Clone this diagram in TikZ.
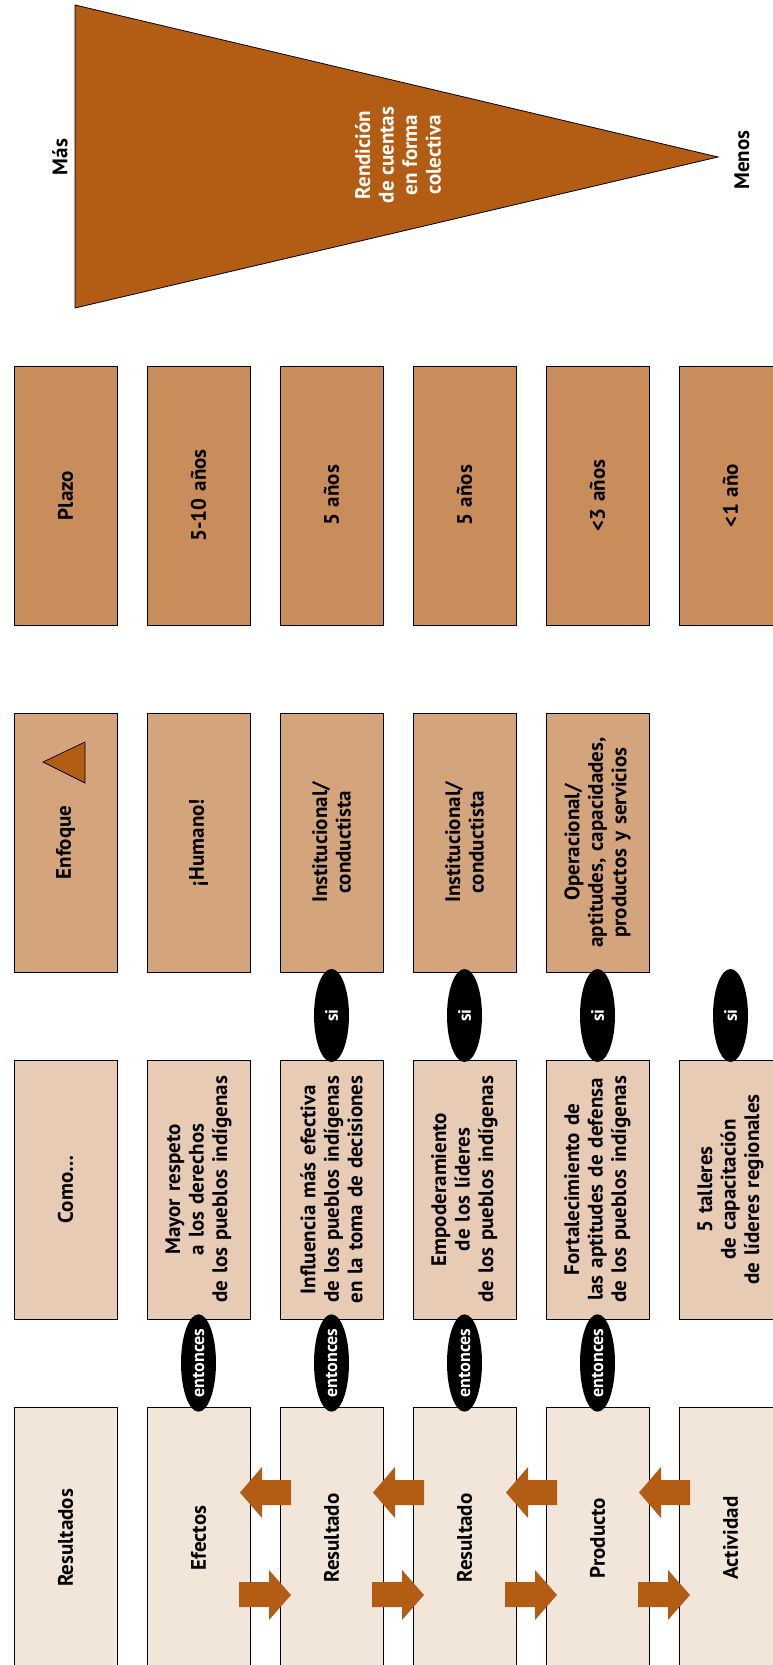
\documentclass[tikz,border=0pt]{standalone}
\usepackage{fontspec}
\setmainfont{PT Sans}
\usetikzlibrary{shapes.geometric}
\definecolor{plazo}{HTML}{C98C5B}
\definecolor{enfoque}{HTML}{D4A47C}
\definecolor{como}{HTML}{E8CBB5}
\definecolor{resul}{HTML}{F2E5DA}
\definecolor{naranja}{HTML}{B35C14}
\begin{document}
\begin{tikzpicture}[x=1pt,y=-1pt,
  box/.style={draw=black, line width=0.9pt, rotate=90, minimum width=259pt, minimum height=103pt,
    inner sep=0pt, align=center, text width=250pt, font=\bfseries\fontsize{21}{23.5}\selectfont},
  rbox/.style={draw=black, line width=0.9pt, rotate=90, minimum width=293pt, minimum height=103pt, inner sep=0pt},
  lbl/.style={rotate=90, align=center, inner sep=0pt, font=\bfseries\fontsize{21}{23.5}\selectfont},
  oval/.style={ellipse, fill=black, rotate=90, minimum width=93pt, minimum height=35pt, inner sep=0pt,
    text=white, font=\bfseries\fontsize{18}{20}\selectfont},
  blockarrow/.style={fill=naranja}
]
\useasboundingbox (0,0) rectangle (772,1665);

% triangle
\coordinate (tA) at (75,5);
\coordinate (tB) at (75,308);
\coordinate (tC) at (718,157);
\filldraw[fill=naranja, draw=black, line width=0.8pt] (tA) -- (tC) -- (tB) -- cycle;
\node[lbl, text=white] (rend) at (398,155) {Rendición\\de cuentas\\en forma\\colectiva};
\node[lbl] (mas) at (60,157) {Más};
\node[lbl] (menos) at (742,160) {Menos};

% Plazo row
\node[box, fill=plazo] (p1) at (65.5,495.5) {Plazo};
\node[box, fill=plazo] (p2) at (198.5,495.5) {5-10 años};
\node[box, fill=plazo] (p3) at (331.5,495.5) {5 años};
\node[box, fill=plazo] (p4) at (464.5,495.5) {5 años};
\node[box, fill=plazo] (p5) at (597.5,495.5) {<3 años};
\node[box, fill=plazo] (p6) at (730.5,495.5) {<1 año};

% Enfoque row
\node[box, fill=enfoque] (e1) at (65.5,842.5) {Enfoque};
\filldraw[fill=naranja, draw=black, line width=0.7pt] (43,762) -- (85,742) -- (85,783) -- cycle;
\node[box, fill=enfoque] (e2) at (198.5,842.5) {¡Humano!};
\node[box, fill=enfoque] (e3) at (331.5,842.5) {Institucional/\\conductista};
\node[box, fill=enfoque] (e4) at (464.5,842.5) {Institucional/\\conductista};
\node[box, fill=enfoque] (e5) at (597.5,842.5) {Operacional/\\aptitudes, capacidades,\\productos y servicios};

% Como row
\node[box, fill=como] (c1) at (65.5,1189.5) {Como…};
\node[box, fill=como] (c2) at (198.5,1189.5) {Mayor respeto\\a los derechos\\de los pueblos indígenas};
\node[box, fill=como] (c3) at (331.5,1189.5) {Influencia más efectiva\\de los pueblos indígenas\\en la toma de decisiones};
\node[box, fill=como] (c4) at (464.5,1189.5) {Empoderamiento\\de los líderes\\de los pueblos indígenas};
\node[box, fill=como] (c5) at (597.5,1189.5) {Fortalecimiento de\\las aptitudes de defensa\\de los pueblos indígenas};
\node[box, fill=como] (c6) at (730.5,1189.5) {5 talleres\\de capacitación\\de líderes regionales};

% Resultados row
\node[rbox, fill=resul] (r1) at (65.5,1553.5) {};
\node[rbox, fill=resul] (r2) at (198.5,1553.5) {};
\node[rbox, fill=resul] (r3) at (331.5,1553.5) {};
\node[rbox, fill=resul] (r4) at (464.5,1553.5) {};
\node[rbox, fill=resul] (r5) at (597.5,1553.5) {};
\node[rbox, fill=resul] (r6) at (730.5,1553.5) {};
\node[lbl] (t1) at (65.5,1538) {Resultados};
\node[lbl] (t2) at (198.5,1538) {Efectos};
\node[lbl] (t3) at (331.5,1538) {Resultado};
\node[lbl] (t4) at (464.5,1538) {Resultado};
\node[lbl] (t5) at (597.5,1538) {Producto};
\node[lbl] (t6) at (730.5,1538) {Actividad};

% si ovals
\node[oval] (si3) at (331.5,1015.5) {si};
\node[oval] (si4) at (464.5,1015.5) {si};
\node[oval] (si5) at (597.5,1015.5) {si};
\node[oval] (si6) at (730.5,1015.5) {si};

% entonces ovals
\node[oval] (en2) at (198.5,1363) {entonces};
\node[oval] (en3) at (331.5,1363) {entonces};
\node[oval] (en4) at (464.5,1363) {entonces};
\node[oval] (en5) at (597.5,1363) {entonces};

% block arrows
\foreach \j in {0,1,2,3}{
  \pgfmathsetmacro{\d}{133*\j}
  \fill[blockarrow] (240+\d,1492.5) -- (262+\d,1467) -- (262+\d,1480) -- (291+\d,1480)
     -- (291+\d,1505) -- (262+\d,1505) -- (262+\d,1518) -- cycle;
  \fill[blockarrow] (239+\d,1582) -- (269+\d,1582) -- (269+\d,1570) -- (291+\d,1595)
     -- (269+\d,1620) -- (269+\d,1607) -- (239+\d,1607) -- cycle;
}
\end{tikzpicture}
\end{document}
